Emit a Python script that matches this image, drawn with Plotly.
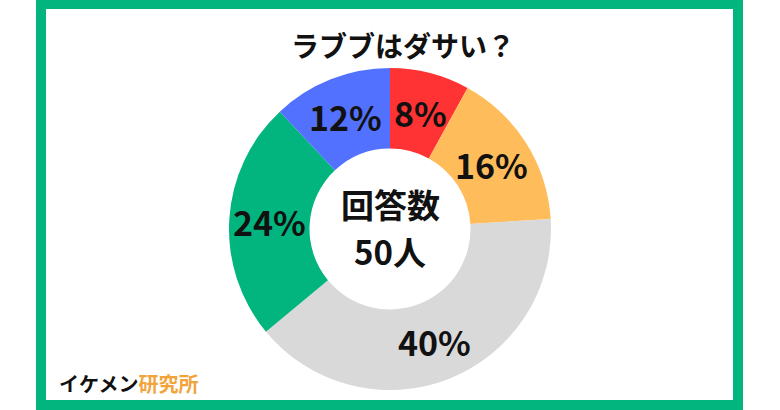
import math
import plotly.graph_objects as go

categories = ["8%", "16%", "40%", "24%", "12%"]
values = [8, 16, 40, 24, 12]
colors = ["#FF3333", "#FFBC5A", "#D9D9D9", "#02B47D", "#5271FF"]

title_text = "ラブブはダサい？"
center_lines = ["回答数", "50人"]
brand_black = "イケメン"
brand_orange = "研究所"

W, H = 780, 410
GREEN = "#02B47D"
FONT = "Noto Sans CJK JP"
HOLE = 0.5
CX, CY, R = 390, 229, 161  # pie centre and radius in pixels

fig = go.Figure()
fig.add_trace(go.Pie(
    labels=categories,
    values=values,
    marker=dict(colors=colors, line=dict(width=0)),
    hole=HOLE,
    sort=False,
    direction="clockwise",
    rotation=0,
    textinfo="none",
    domain=dict(x=[(CX - R) / W, (CX + R) / W], y=[(H - CY - R) / H, (H - CY + R) / H]),
    showlegend=False,
    hoverinfo="skip",
))

# slice labels at the middle of each ring segment (angles derived from the values)
total = sum(values)
annotations = []
cum = 0
r_mid = R * (1 + HOLE) / 2
for lab, v in zip(categories, values):
    ang = 2 * math.pi * (cum + v / 2) / total
    cum += v
    annotations.append(dict(
        text="<b>" + lab + "</b>",
        x=(CX + r_mid * math.sin(ang)) / W, y=(H - CY + r_mid * math.cos(ang)) / H,
        xref="paper", yref="paper", showarrow=False,
        xanchor="center", yanchor="middle",
        font=dict(family=FONT, size=34, color="#111111")))

annotations += [
    dict(text="<b>" + title_text + "</b>", x=403 / W, y=(H - 45) / H,
         xref="paper", yref="paper", showarrow=False, yanchor="middle",
         font=dict(family=FONT, size=28, color="#111111")),
    dict(text="<b>" + center_lines[0] + "</b>", x=CX / W, y=(H - 204) / H,
         xref="paper", yref="paper", showarrow=False, yanchor="middle",
         font=dict(family=FONT, size=33, color="#111111")),
    dict(text="<b>" + center_lines[1] + "</b>", x=CX / W, y=(H - 251) / H,
         xref="paper", yref="paper", showarrow=False, yanchor="middle",
         font=dict(family=FONT, size=33, color="#111111")),
    dict(text="<b>" + brand_black + "<span style='color:#F2A33A'>" + brand_orange + "</span></b>",
         x=57 / W, y=(H - 383) / H, xanchor="left", yanchor="middle",
         xref="paper", yref="paper", showarrow=False,
         font=dict(family=FONT, size=20, color="#111111")),
]

fig.update_layout(
    width=W, height=H,
    margin=dict(l=0, r=0, t=0, b=0),
    paper_bgcolor="white",
    plot_bgcolor="white",
    annotations=annotations,
    shapes=[dict(type="rect", xref="paper", yref="paper",
                 x0=41 / W, x1=738 / W, y0=5 / H, y1=(H - 4) / H,
                 line=dict(color=GREEN, width=10), fillcolor="rgba(0,0,0,0)")],
)

fig.write_html("out.html", config={"displayModeBar": False},
               post_script="document.body.style.margin='0';document.body.style.overflow='hidden';")
